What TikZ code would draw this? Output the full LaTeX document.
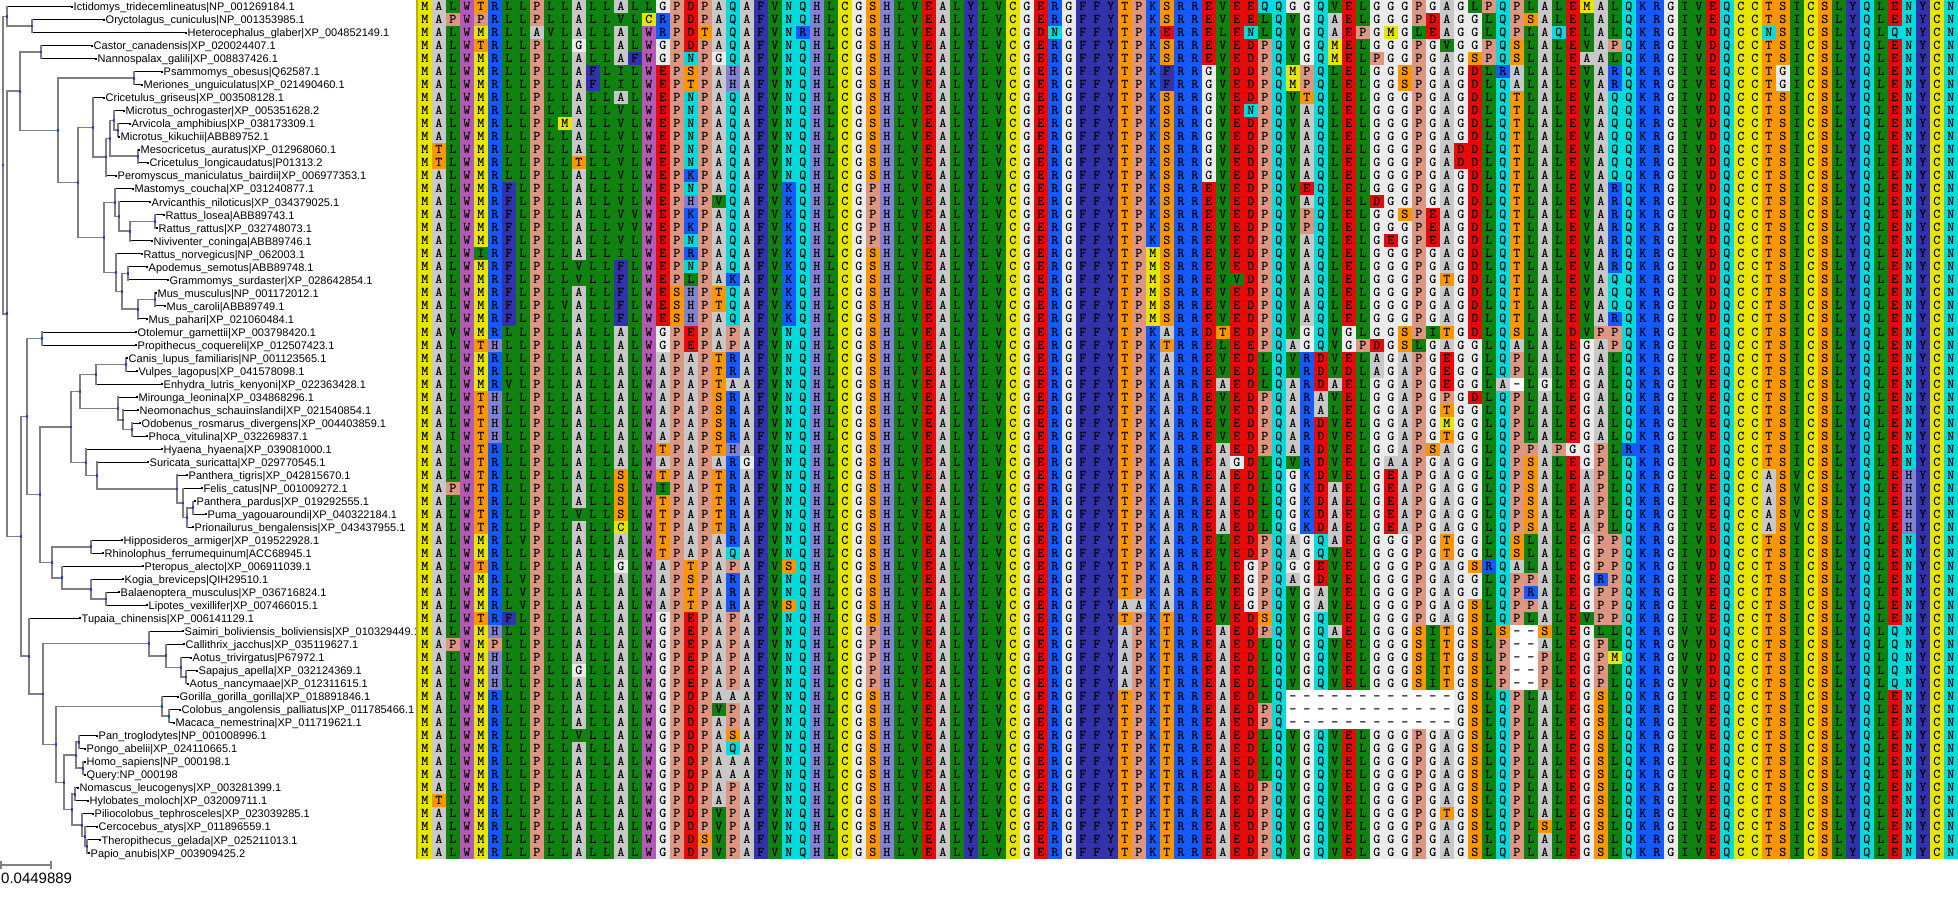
\documentclass[tikz,border=0pt]{standalone}
\usepackage{fontspec}
\usetikzlibrary{calc}
\newfontfamily\labfont{Liberation Sans}
\definecolor{cgray}{RGB}{200,200,200}
\definecolor{cblue}{RGB}{20,90,255}
\definecolor{ccyan}{RGB}{0,220,220}
\definecolor{cred}{RGB}{230,10,10}
\definecolor{cyel}{RGB}{230,230,0}
\definecolor{clgray}{RGB}{235,235,235}
\definecolor{chis}{RGB}{130,130,210}
\definecolor{cgreen}{RGB}{15,130,15}
\definecolor{cnavy}{RGB}{50,50,170}
\definecolor{cpro}{RGB}{220,150,130}
\definecolor{corange}{RGB}{250,150,0}
\definecolor{ctrp}{RGB}{180,90,180}
\definecolor{treegray}{RGB}{128,128,128}
\definecolor{markblue}{RGB}{30,60,230}
\definecolor{bordolive}{RGB}{185,175,0}
\newcommand\aafont{\ttfamily\bfseries\fontsize{13.5bp}{14bp}\selectfont}
\makeatletter
\@namedef{aacol@A}{cgray}
\@namedef{aacol@R}{cblue}\@namedef{aacol@K}{cblue}
\@namedef{aacol@N}{ccyan}\@namedef{aacol@Q}{ccyan}
\@namedef{aacol@D}{cred}\@namedef{aacol@E}{cred}
\@namedef{aacol@C}{cyel}\@namedef{aacol@M}{cyel}
\@namedef{aacol@G}{clgray}
\@namedef{aacol@H}{chis}
\@namedef{aacol@I}{cgreen}\@namedef{aacol@L}{cgreen}\@namedef{aacol@V}{cgreen}
\@namedef{aacol@F}{cnavy}\@namedef{aacol@Y}{cnavy}
\@namedef{aacol@P}{cpro}
\@namedef{aacol@S}{corange}\@namedef{aacol@T}{corange}
\@namedef{aacol@W}{ctrp}
\@namedef{aacol@-}{white}
\newdimen\sqx \newdimen\sqy
\newcommand\seqrow[4]{%
  \sqy=13.02bp \sqy=-#1\sqy
  \sqx=418bp
  \@tfor\sqch:=#2#3#4\do{%
    \edef\sqfc{\csname aacol@\sqch\endcsname}%
    \pgfsetfillcolor{\sqfc}%
    \pgfpathrectangle{\pgfqpoint{\sqx}{\sqy}}{\pgfqpoint{14bp}{13.02bp}}%
    \pgfusepath{fill}%
    \advance\sqx by 14bp\relax}%
  \pgftext[left,base,at={\pgfqpoint{418bp}{\dimexpr\sqy+2.51bp\relax}}]{\aafont
    \@tfor\sqch:=#2#3#4\do{\hbox to 14bp{\hss\sqch\hss}}}%
}
\makeatother
\tikzset{
  lab/.style={anchor=base west, inner sep=0pt, font=\labfont\fontsize{11bp}{13bp}\selectfont},
  vl/.style={draw=treegray, line width=1.5bp, line cap=rect},
  intl/.style={draw=treegray, line width=1.5bp},
  leafl/.style={draw=black, line width=1bp},
}
\newcommand\leaf[3]{%
  \coordinate (t#1) at (#2,{(#1-0.5)*13.02});
  \node[lab] (lab#1) at ([xshift=1.5bp,yshift=-4.2bp]t#1) {#3};}
\newcommand\tn[6]{%
  \path ($(#3)!0.5!(#5)$) coordinate (#1m);
  \coordinate (#1) at (#2,0 |- #1m);
  \draw[#4] (#3 -| #1) -- (#3);
  \draw[#6] (#5 -| #1) -- (#5);
  \draw[vl] (#3 -| #1) -- (#5 -| #1);}
\begin{document}
\begin{tikzpicture}[x=1bp,y=-1bp]
\fill[white] (0,0) rectangle (1958,910);
\useasboundingbox (0,0) rectangle (1958,910);
% leaves
\leaf{1}{72}{Ictidomys\_tridecemlineatus|NP\_001269184.1}
\leaf{2}{104}{Oryctolagus\_cuniculus|NP\_001353985.1}
\leaf{3}{186}{Heterocephalus\_glaber|XP\_004852149.1}
\leaf{4}{92}{Castor\_canadensis|XP\_020024407.1}
\leaf{5}{96}{Nannospalax\_galili|XP\_008837426.1}
\leaf{6}{162}{Psammomys\_obesus|Q62587.1}
\leaf{7}{142}{Meriones\_unguiculatus|XP\_021490460.1}
\leaf{8}{104}{Cricetulus\_griseus|XP\_003508128.1}
\leaf{9}{124}{Microtus\_ochrogaster|XP\_005351628.2}
\leaf{10}{130}{Arvicola\_amphibius|XP\_038173309.1}
\leaf{11}{119}{Microtus\_kikuchii|ABB89752.1}
\leaf{12}{139}{Mesocricetus\_auratus|XP\_012968060.1}
\leaf{13}{148}{Cricetulus\_longicaudatus|P01313.2}
\leaf{14}{116}{Peromyscus\_maniculatus\_bairdii|XP\_006977353.1}
\leaf{15}{133}{Mastomys\_coucha|XP\_031240877.1}
\leaf{16}{150}{Arvicanthis\_niloticus|XP\_034379025.1}
\leaf{17}{164}{Rattus\_losea|ABB89743.1}
\leaf{18}{157}{Rattus\_rattus|XP\_032748073.1}
\leaf{19}{152}{Niviventer\_coninga|ABB89746.1}
\leaf{20}{142}{Rattus\_norvegicus|NP\_062003.1}
\leaf{21}{147}{Apodemus\_semotus|ABB89748.1}
\leaf{22}{168}{Grammomys\_surdaster|XP\_028642854.1}
\leaf{23}{156}{Mus\_musculus|NP\_001172012.1}
\leaf{24}{165}{Mus\_caroli|ABB89749.1}
\leaf{25}{147}{Mus\_pahari|XP\_021060484.1}
\leaf{26}{136}{Otolemur\_garnettii|XP\_003798420.1}
\leaf{27}{136}{Propithecus\_coquereli|XP\_012507423.1}
\leaf{28}{127}{Canis\_lupus\_familiaris|NP\_001123565.1}
\leaf{29}{137}{Vulpes\_lagopus|XP\_041578098.1}
\leaf{30}{162}{Enhydra\_lutris\_kenyoni|XP\_022363428.1}
\leaf{31}{137}{Mirounga\_leonina|XP\_034868296.1}
\leaf{32}{138}{Neomonachus\_schauinslandi|XP\_021540854.1}
\leaf{33}{140}{Odobenus\_rosmarus\_divergens|XP\_004403859.1}
\leaf{34}{147}{Phoca\_vitulina|XP\_032269837.1}
\leaf{35}{162}{Hyaena\_hyaena|XP\_039081000.1}
\leaf{36}{148}{Suricata\_suricatta|XP\_029770545.1}
\leaf{37}{187}{Panthera\_tigris|XP\_042815670.1}
\leaf{38}{202}{Felis\_catus|NP\_001009272.1}
\leaf{39}{195}{Panthera\_pardus|XP\_019292555.1}
\leaf{40}{206}{Puma\_yagouaroundi|XP\_040322184.1}
\leaf{41}{193}{Prionailurus\_bengalensis|XP\_043437955.1}
\leaf{42}{122}{Hipposideros\_armiger|XP\_019522928.1}
\leaf{43}{103}{Rhinolophus\_ferrumequinum|ACC68945.1}
\leaf{44}{143}{Pteropus\_alecto|XP\_006911039.1}
\leaf{45}{123}{Kogia\_breviceps|QIH29510.1}
\leaf{46}{119}{Balaenoptera\_musculus|XP\_036716824.1}
\leaf{47}{147}{Lipotes\_vexillifer|XP\_007466015.1}
\leaf{48}{80}{Tupaia\_chinensis|XP\_006141129.1}
\leaf{49}{183}{Saimiri\_boliviensis\_boliviensis|XP\_010329449.1}
\leaf{50}{184}{Callithrix\_jacchus|XP\_035119627.1}
\leaf{51}{191}{Aotus\_trivirgatus|P67972.1}
\leaf{52}{197}{Sapajus\_apella|XP\_032124369.1}
\leaf{53}{188}{Aotus\_nancymaae|XP\_012311615.1}
\leaf{54}{178}{Gorilla\_gorilla\_gorilla|XP\_018891846.1}
\leaf{55}{180}{Colobus\_angolensis\_palliatus|XP\_011785466.1}
\leaf{56}{174}{Macaca\_nemestrina|XP\_011719621.1}
\leaf{57}{97}{Pan\_troglodytes|NP\_001008996.1}
\leaf{58}{85}{Pongo\_abelii|XP\_024110665.1}
\leaf{59}{85}{Homo\_sapiens|NP\_000198.1}
\leaf{60}{85}{Query:NP\_000198}
\leaf{61}{78}{Nomascus\_leucogenys|XP\_003281399.1}
\leaf{62}{88}{Hylobates\_moloch|XP\_032009711.1}
\leaf{63}{93}{Piliocolobus\_tephrosceles|XP\_023039285.1}
\leaf{64}{97}{Cercocebus\_atys|XP\_011896559.1}
\leaf{65}{100}{Theropithecus\_gelada|XP\_025211013.1}
\leaf{66}{89}{Papio\_anubis|XP\_003909425.2}
% tree
\tn{B}{32}{t2}{leafl}{t3}{leafl}
\tn{A}{7}{t1}{leafl}{B}{intl}
\tn{D}{41}{t4}{leafl}{t5}{leafl}
\tn{F}{134}{t6}{leafl}{t7}{leafl}
\tn{Nk}{118}{t10}{leafl}{t11}{leafl}
\tn{Lm}{114}{t9}{leafl}{Nk}{intl}
\tn{Mm}{138}{t12}{leafl}{t13}{leafl}
\tn{K}{110}{Lm}{intl}{Mm}{intl}
\tn{J}{106}{K}{intl}{t14}{leafl}
\tn{H}{93}{t8}{leafl}{J}{intl}
\tn{S}{155}{t17}{leafl}{t18}{leafl}
\tn{R}{130}{S}{intl}{t19}{leafl}
\tn{Q}{119}{t16}{leafl}{R}{intl}
\tn{O}{115}{t15}{leafl}{Q}{intl}
\tn{U}{128}{t21}{leafl}{t22}{leafl}
\tn{W}{155}{t23}{leafl}{t24}{leafl}
\tn{V}{138}{W}{intl}{t25}{leafl}
\tn{T}{122}{U}{intl}{V}{intl}
\tn{P}{116}{t20}{leafl}{T}{intl}
\tn{I}{104}{O}{intl}{P}{intl}
\tn{G}{78}{H}{intl}{I}{intl}
\tn{E}{58}{F}{intl}{G}{intl}
\tn{C}{20}{D}{intl}{E}{intl}
\tn{Strep}{42}{t26}{leafl}{t27}{leafl}
\tn{CV}{126}{t28}{leafl}{t29}{leafl}
\tn{CVE}{96}{CV}{intl}{t30}{leafl}
\tn{OP}{132}{t33}{leafl}{t34}{leafl}
\tn{PN}{123}{t32}{leafl}{OP}{intl}
\tn{Pinn}{118}{t31}{leafl}{PN}{intl}
\tn{Canif}{80}{CVE}{intl}{Pinn}{intl}
\tn{FEf}{193}{t39}{leafl}{t40}{leafl}
\tn{FEe}{187}{FEf}{intl}{t41}{leafl}
\tn{FEd}{183}{t38}{leafl}{FEe}{intl}
\tn{FE}{177}{t37}{leafl}{FEd}{intl}
\tn{SF}{97}{t36}{leafl}{FE}{intl}
\tn{Felif}{86}{t35}{leafl}{SF}{intl}
\tn{Carn}{71}{Canif}{intl}{Felif}{intl}
\tn{Bats}{91}{t42}{leafl}{t43}{leafl}
\tn{BL}{106}{t46}{leafl}{t47}{leafl}
\tn{Cet}{91}{t45}{leafl}{BL}{intl}
\tn{BC}{62}{t44}{leafl}{Cet}{intl}
\tn{ChC}{52}{Bats}{intl}{BC}{intl}
\tn{LA}{40}{Carn}{intl}{ChC}{intl}
\tn{Y}{27}{Strep}{intl}{LA}{intl}
\tn{NWd}{186}{t52}{leafl}{t53}{leafl}
\tn{NWc}{181}{t51}{leafl}{NWd}{intl}
\tn{NWb}{166}{t50}{leafl}{NWc}{intl}
\tn{NW}{149}{t49}{leafl}{NWb}{intl}
\tn{CM}{169}{t55}{leafl}{t56}{leafl}
\tn{GM}{162}{t54}{leafl}{CM}{intl}
\tn{HP}{79}{t57}{leafl}{t58}{leafl}
\tn{HQ}{83}{t59}{leafl}{t60}{leafl}
\tn{Apes}{76}{HP}{intl}{HQ}{intl}
\tn{NH}{75}{t61}{leafl}{t62}{leafl}
\tn{TP}{87}{t65}{leafl}{t66}{leafl}
\tn{CTP}{85}{t64}{leafl}{TP}{intl}
\tn{OWM}{82}{t63}{leafl}{CTP}{intl}
\tn{OWb}{72}{NH}{intl}{OWM}{intl}
\tn{AO}{64}{Apes}{intl}{OWb}{intl}
\tn{CT}{56}{GM}{intl}{AO}{intl}
\tn{PR}{43}{NW}{intl}{CT}{intl}
\tn{Z}{29}{t48}{leafl}{PR}{intl}
\tn{X}{21}{Y}{intl}{Z}{intl}
\tn{RR}{7}{C}{intl}{X}{intl}
\tn{Root}{3}{A}{intl}{RR}{intl}
\foreach \i in {1,...,66} {\fill[black] (t\i) +(-1,-1) rectangle +(1,1);}
\foreach \m in {B,A,D,F,Nk,Lm,Mm,K,J,H,S,R,Q,O,U,W,V,T,P,I,G,E,C,Strep,CV,CVE,OP,PN,Pinn,Canif,FEf,FEe,FEd,FE,SF,Felif,Carn,Bats,BL,Cet,BC,ChC,LA,Y,NWd,NWc,NWb,NW,CM,GM,HP,HQ,Apes,NH,TP,CTP,OWM,OWb,AO,CT,PR,Z,X,RR,Root}
  {\fill[markblue] (\m) +(-1.4,-1.4) rectangle +(1.4,1.4);}
% scale bar
\coordinate (sba) at (1,865);
\coordinate (sbb) at (51,865);
\draw[intl] (sba) -- (sbb);
\draw[intl] ([yshift=4bp]sba) -- ([yshift=-4bp]sba);
\draw[intl] ([yshift=4bp]sbb) -- ([yshift=-4bp]sbb);
\node[anchor=base west, inner sep=0pt, font=\labfont\fontsize{15bp}{17bp}\selectfont] (sbl) at (1,883) {0.0449889};
% alignment
\begin{pgfscope}
\seqrow{1}{MALWTRLLPLLALLALLGPDPAQAFVNQHLCGSHLVE}{ALYLVCGERGFFYTPKSRREVEEQQGGQVELGGGPGA}{GLPQPLALEMALQKRGIVEQCCTSICSLYQLENYCN}
\seqrow{2}{MAPWPRLLPLLALLVLCRPDPAQAFVNQHLCGSHLVE}{ALYLVCGERGFFYTPKSRREVEELQVGQAELGGGPDA}{GGLQPSALELALQKRGIVEQCCTSICSLYQLENYCN}
\seqrow{3}{MALWMRLLAVLALLALWRPDTAQAFVNRHLCGSHLVE}{ALYLVCGDNGFFYTPKERRELENLQVGQAEPGMGLEA}{GGLQPLAQELALQKRGIVDQCCNSICSLYQLQNYCN}
\seqrow{4}{MALWTRLLPLLGLLALWGPDPAQAFVNQHLCGSHLVE}{ALYLVCGERGFFYTPKSRREVEDPQVGQMELGGGPGV}{GGPQSLALEVAPQKRGIVDQCCTSICSLYQLENYCN}
\seqrow{5}{MALWMRLLPLLALLAFWGPNPGQAFVNQHLCGSHLVE}{ALYLVCGERGFFYTPKSRREVEDPQVGQMELPGGPGA}{GSPQSLALEAALQKRGIVDQCCTSICSLYQLENYCN}
\seqrow{6}{MALWMRLLPLLAFLILWEPSPAHAFVNQHLCGSHLVE}{ALYLVCGERGFFYTPKFRRGVDDPQMPQLELGGSPGA}{GDLRALALEVARQKRGIVEQCCTGICSLYQLENYCN}
\seqrow{7}{MALWMRLLPLLAFLILWEPTPAHAFVNQHLCGSHLVE}{ALYLVCGERGFFYTPKFRRGVEDPQMPQLELGGSPGA}{GDLQALALEVARQKRGIVEQCCTGICSLYQLENYCN}
\seqrow{8}{MALWMRLLPLLALLALWEPNPAQAFVNQHLCGSHLVE}{ALYLVCGERGFFYTPKSRRGVEDPQVTQLELGGGPGA}{GDLQTLALEVAQQKRGIVDQCCTSICSLYQLENYCN}
\seqrow{9}{MALWMRLLPLLALLVLWEPNPAQAFVNQHLCGSHLVE}{ALYLVCGERGFFYTPKSRRGVENPQVAQLELGGGPGA}{GDLQTLALEVAQQKRGIVDQCCTSICSLYQLENYCN}
\seqrow{10}{MALWMRLLPLMALLVLWEPNPAQAFVNQHLCGSHLVE}{ALYLVCGERGFFYTPKSRRGVEDPQVAQLELGGGPGA}{GDLQTLALEVAQQKRGIVDQCCTSICSLYQLENYCN}
\seqrow{11}{MALWMRLLPLLALLVLWEPNPAQAFVNQHLCGSHLVE}{ALYLVCGERGFFYTPKSRRGVEDPQVAQLELGGGPGA}{GDLQTLALEVAQQKRGIVDQCCTSICSLYQLENYCN}
\seqrow{12}{MTLWMRLLPLLALLVLWEPNPAQAFVNQHLCGSHLVE}{ALYLVCGERGFFYTPKSRRGVEDPQVAQLELGGGPGA}{DDLQTLALEVAQQKRGIVDQCCTSICSLYQLENYCN}
\seqrow{13}{MTLWMRLLPLLTLLVLWEPNPAQAFVNQHLCGSHLVE}{ALYLVCGERGFFYTPKSRRGVEDPQVAQLELGGGPGA}{DDLQTLALEVAQQKRGIVDQCCTSICSLYQLENYCN}
\seqrow{14}{MALWMRLLPLLALLVLWEPKPAQAFVNQHLCGSHLVE}{ALYLVCGERGFFYTPKSRRGVEDPQVAQLELGGGPGA}{GDLQTLALEVAQQKRGIVDQCCTSICSLYQLENYCN}
\seqrow{15}{MALWMRFLPLLALLILWEPNPAQAFVKQHLCGPHLVE}{ALYLVCGERGFFYTPKSRREVEDPQVEQLELGGGPGA}{GDLQTLALEVARQKRGIVDQCCTSICSLYQLENYCN}
\seqrow{16}{MALWMRFLPLLALLVLWEPHPVQAFVKQHLCGPHLVE}{ALYLVCGERGFFYTPKSRREVEDPQVAQLELDGGPGA}{GDLQTLALEVARQKRGIVDQCCTSICSLYQLENYCN}
\seqrow{17}{MALWMRFLPLLALLVVWEPKPAQAFVKQHLCGPHLVE}{ALYLVCGERGFFYTPKSRREVEDPQVPQLELGGSPEA}{GDLQTLALEVARQKRGIVDQCCTSICSLYQLENYCN}
\seqrow{18}{MALWMRFLPLLALLVVWEPKPAQAFVKQHLCGPHLVE}{ALYLVCGERGFFYTPKSRREVEDPQVPQLELGGGPEA}{GDLQTLALEVARQKRGIVDQCCTSICSLYQLENYCN}
\seqrow{19}{MALWMRFLPLLALLVLWEPNPAQAFVKQHLCGPHLVE}{ALYLVCGERGFFYTPKSRREVEDPQVAQLELGEGPEA}{GDLQTLALEVARQKRGIVDQCCTSICSLYQLENYCN}
\seqrow{20}{MALWIRFLPLLALLILWEPRPAQAFVKQHLCGSHLVE}{ALYLVCGERGFFYTPMSRREVEDPQVAQLELGGGPGA}{GDLQTLALEVARQKRGIVDQCCTSICSLYQLENYCN}
\seqrow{21}{MALWMRFLPLLVLLFLWEPNPAQAFVKQHLCGSHLVE}{ALYLVCGERGFFYTPMSRREVEDPQVAQLELGGGPGA}{GDLQTLALEVARQKRGIVDQCCTSICSLYQLENYCN}
\seqrow{22}{MALWMRFLPLLVLLFLWEPLPAKAFVKQHLCGSHLVE}{ALYLVCGERGFFYTPMSRREVVDPQVAQLELGGGPGT}{GDLQTLALEVAQQKRGIVDQCCTSICSLYQLENYCN}
\seqrow{23}{MALWMRFLPLLALLFLWESHPTQAFVKQHLCGSHLVE}{ALYLVCGERGFFYTPMSRREVEDPQVAQLELGGGPGA}{GDLQTLALEVAQQKRGIVDQCCTSICSLYQLENYCN}
\seqrow{24}{MALWMRFLPLVALLFLWESHPTQAFVKQHLCGSHLVE}{ALYLVCGERGFFYTPMSRREVEDPQVAQLELGGGPGA}{GDLQTLALEVAQQKRGIVDQCCTSICSLYQLENYCN}
\seqrow{25}{MALWMRFLPLLALLFLWESHPAQAFVKQHLCGSHLVE}{ALYLVCGERGFFYTPMSRREVEDPQVAQLELGGGPGA}{GDLQTLALEVARQKRGIVDQCCTSICSLYQLENYCN}
\seqrow{26}{MAVWMRLLPLLALLALWGPEPAPAFVNQHLCGSHLVE}{ALYLVCGERGFFYTPKARRDTEDPQVGQVGLGGSPIT}{GDLQSLALDVPPQKRGIVEQCCTSICSLYQLENYCN}
\seqrow{27}{MALWTHLLPLLALLALWGPEPAPAFVNQHLCGSHLVE}{ALYLVCGERGFFYTPKTRRELEEPQAGQVGPDGSLGA}{GGLQALALEGAPQKRGIVEQCCTSICSLYQLENYCN}
\seqrow{28}{MALWMRLLPLLALLALWAPAPTRAFVNQHLCGSHLVE}{ALYLVCGERGFFYTPKARREVEDLQVRDVELAGAPGE}{GGLQPLALEGALQKRGIVEQCCTSICSLYQLENYCN}
\seqrow{29}{MALWMRLLPLLALLALWAPAPTRAFVNQHLCGSHLVE}{ALYLVCGERGFFYTPKARREVEDLQVRDVDLAGAPGE}{GGLQPLALEGALQKRGIVEQCCTSICSLYQLENYCN}
\seqrow{30}{MALWMRVLPLLALLALWAPAPTAAFVNQHLCGSHLVE}{ALYLVCGERGFFYTPKARREAEDLQARDAELGGAPGE}{GGLA-LGLEGALQKRGIVEQCCTSICSLYQLENYCN}
\seqrow{31}{MALWTHLLPLLALLALWAPAPSRAFVNQHLCGSHLVE}{ALYLVCGERGFFYTPKARREVEDPQARAVELGGAPGP}{GDLQPLALEGALQKRGIVEQCCTSICSLYQLENYCN}
\seqrow{32}{MALWTHLLPLLALLALWAPAPSRAFVNQHLCGSHLVE}{ALYLVCGERGFFYTPKARREVEDPQARALELGGAPGT}{GGLQPLALEGALQKRGIVEQCCTSICSLYQLENYCN}
\seqrow{33}{MALWTHLLPLLALLALWAPAPSRAFVNQHLCGSHLVE}{ALYLVCGERGFFYTPKARREVEDPQARDVELGGAPGM}{GGLQPLALEGALQKRGIVEQCCTSICSLYQLENYCN}
\seqrow{34}{MAIWTHLLPLLALLALWAPAPSRAFVNQHLCGSHLVE}{ALYLVCGERGFFYTPKARREVEDPQARDVELGGAPGT}{GGLQPLALEGALQKRGIVEQCCTSICSLYQLENYCN}
\seqrow{35}{MALWTRLLPLLALLALWTPAPTHAFVNQHLCGSHLVE}{ALYLVCGERGFFYTPKARREAEDPQARDVELGGAPSA}{GGLQPPAPGGPLRKRGIVEQCCTSICSLYQLENYCN}
\seqrow{36}{MALWTRLLPLLALLALWAPAPARGFVNQHLCGSHLVE}{ALYLVCGERGFFYTPKARREAGDLQVRDVELGAAPGA}{GGLQPSALEGPLQKRGIVDQCCTSICSLYQLENYCN}
\seqrow{37}{MALWTRLLPLLALLSLWTPAPTRAFVNQHLCGSHLVE}{ALYLVCGERGFFYTPKARREAEDLQGKDVELGEAPGA}{GGLQPSALEAPLQKRGIVEQCCASVCSLYQLEHYCN}
\seqrow{38}{MAPWTRLLPLLALLSLWIPAPTRAFVNQHLCGSHLVE}{ALYLVCGERGFFYTPKARREAEDLQGKDAELGEAPGA}{GGLQPSALEAPLQKRGIVEQCCASVCSLYQLEHYCN}
\seqrow{39}{MALWTRLLPLLALLSLWTPAPTRAFVNQHLCGSHLVE}{ALYLVCGERGFFYTPKARREAEDLQGKDAELGEAPGA}{GGLQPSALEAPLQKRGIVEQCCASVCSLYQLEHYCN}
\seqrow{40}{MALWTRLLPLLVLLSLWTPAPTRAFVNQHLCGSHLVE}{ALYLVCGERGFFYTPKARREAEDLQGKDAELGEAPGA}{GGLQPSALEAPLQKRGIVEQCCASVCSLYQLEHYCN}
\seqrow{41}{MALWTRLLPLLALLCLWTPAPTRAFVNQHLCGSHLVE}{ALYLVCGERGFFYTPKARREAEDLQGKDAELGEAPGA}{GGLQPSALEAPLQKRGIVEQCCASVCSLYQLEHYCN}
\seqrow{42}{MALWMRLVPLLALLALWTPAPARAFVNQHLCGSHLVE}{ALYLVCGERGFFYTPKARRELEDPQAGQAELGGGPGT}{GGLQSLALEGPPQKRGIVDQCCTSICSLYQLENYCN}
\seqrow{43}{MALWMRLLPLLALLALWTPAPAQAFVNQHLCGSHLVE}{ALYLVCGERGFFYTPKARREVEDPQAGQVELGGGPGT}{GGLQSLALEGPPQKRGIVDQCCTSICSLYQLENYCN}
\seqrow{44}{MALWTRLLPLLALLGLWAPTPAPAFVSQHLCGSHLVE}{ALYLVCGERGFFYTPKARRELEGPQGGEVELGGGPGA}{GSRQALALEGPPQKRGIVDQCCTSICSLYQLENYCN}
\seqrow{45}{MALWMRLVPLLALLALWAPSPARAFVNQHLCGSHLVE}{ALYLVCGERGFFYTPKARREVEGPQAGDVELGGGPGA}{GGLQPPALEGRPQKRGIVEQCCTSICSLYQLENYCN}
\seqrow{46}{MALWMRLVPLLALLALWAPTPARAFVNQHLCGSHLVE}{ALYLVCGERGFFYTPKARREVEGPQVGAVELGGGPGA}{GGLQPRALEGPPQKRGIVEQCCTSICSLYQLENYCN}
\seqrow{47}{MALWMRLVPLLALLALWAPTPARAFVSQHLCGSHLVE}{ALYLVCGERGFFYAAKARREVEGPQVGAVELGGGPGA}{GSLQPPALEGPPQKRGIVEQCCTSICSLYQLENYCN}
\seqrow{48}{MALWTRFLPLLALLALWGPEPAPAFVNQHLCGSHLVE}{ALYLVCGERGFFYTPKTRREVEDSQVGQVELGGGPGA}{GSLQPLALEVPPQKRGIVEQCCTSICSLYQLENYCN}
\seqrow{49}{MALWMHLLPLLALLALWGPEPAPAFVNQHLCGPHLVE}{ALYLVCGERGFFYAPKTRREAEDPQVGQAELGGGSIT}{GSLS--SLEGLLQKRGVVDQCCTSICSLYQLQNYCN}
\seqrow{50}{MAPWMPLLPLLALLALWGPEPAPAFVNQHLCGPHLVE}{ALYLVCGERGFFYAPKTRREAEDLQVGQVELGGGSIT}{GSLP--ALEGPLQKRGVVDQCCTSICSLYQLQNYCN}
\seqrow{51}{MALWMHLLPLLALLALWGPEPAPAFVNQHLCGPHLVE}{ALYLVCGERGFFYAPKTRREAEDLQVGQVELGGGSIT}{GSLP--PLEGPMQKRGVVDQCCTSICSLYQLQNYCN}
\seqrow{52}{MALWMHLLPLLGLLALWGPEPAPAFVNQHLCGPHLVE}{ALYLVCGERGFFYAPKTRREAEDLQVGQVELGGGSIT}{GSLP--PLEGPLQKRGVVDQCCTSICSLYQLQNYCN}
\seqrow{53}{MALWMHLLPLLALLALWGPEPAPAFVNQHLCGPHLVE}{ALYLVCGERGFFYAPKTRREAEDLQVGQVELGGGSIT}{GSLP--PLEGPLQKRGVVDQCCTSICSLYQLQNYCN}
\seqrow{54}{MALWMRLLPLLALLALWGPDPAAAFVNQHLCGSHLVE}{ALYLVCGERGFFYTPKTRREAEDLQ------------}{GSLQPLALEGSLQKRGIVEQCCTSICSLYQLENYCN}
\seqrow{55}{MALWMRLLPLLALLALWGPDPVPAFVNQHLCGSHLVE}{ALYLVCGERGFFYTPKTRREAEDPQ------------}{GSLQPLALEGSLQKRGIVEQCCTSICSLYQLENYCN}
\seqrow{56}{MALWMRLLPLLALLALWGPDPAPAFVNQHLCGSHLVE}{ALYLVCGERGFFYTPKTRREAEDPQ------------}{GSLQPLALEGSLQKRGIVEQCCTSICSLYQLENYCN}
\seqrow{57}{MALWMRLLPLLVLLALWGPDPASAFVNQHLCGSHLVE}{ALYLVCGERGFFYTPKTRREAEDLQVGQVELGGGPGA}{GSLQPLALEGSLQKRGIVEQCCTSICSLYQLENYCN}
\seqrow{58}{MALWMRLLPLLALLALWGPDPAQAFVNQHLCGSHLVE}{ALYLVCGERGFFYTPKTRREAEDLQVGQVELGGGPGA}{GSLQPLALEGSLQKRGIVEQCCTSICSLYQLENYCN}
\seqrow{59}{MALWMRLLPLLALLALWGPDPAAAFVNQHLCGSHLVE}{ALYLVCGERGFFYTPKTRREAEDLQVGQVELGGGPGA}{GSLQPLALEGSLQKRGIVEQCCTSICSLYQLENYCN}
\seqrow{60}{MALWMRLLPLLALLALWGPDPAAAFVNQHLCGSHLVE}{ALYLVCGERGFFYTPKTRREAEDLQVGQVELGGGPGA}{GSLQPLALEGSLQKRGIVEQCCTSICSLYQLENYCN}
\seqrow{61}{MALWMRLLPLLALLALWGPDPAPAFVNQHLCGSHLVE}{ALYLVCGERGFFYTPKTRREAEDPQVGQVELGGGPGA}{GSLQPLALEGSLQKRGIVEQCCTSICSLYQLENYCN}
\seqrow{62}{MTLWMRLLPLLALLALWGPDPAPAFVNQHLCGSHLVE}{ALYLVCGERGFFYTPKTRREAEDPQVGQVELGGGPGA}{GSLQPLALEGSLQKRGIVEQCCTSICSLYQLENYCN}
\seqrow{63}{MALWMRLLPLLALLALWGPDPVPAFVNQHLCGSHLVE}{ALYLVCGERGFFYTPKTRREAEDPQVGQVELGGGPGT}{GSLQPLALEGSLQKRGIVEQCCTSICSLYQLENYCN}
\seqrow{64}{MALWMRLLPLLALLALWGPDPVPAFVNQHLCGSHLVE}{ALYLVCGERGFFYTPKTRREAEDPQVGQVELGGGPGA}{GSLQPLSLEGSLQKRGIVEQCCTSICSLYQLENYCN}
\seqrow{65}{MALWMRLLPLLALLALWGPDSVPAFVNQHLCGSHLVE}{ALYLVCGERGFFYTPKTRREAEDPQVGQVELGGGPGA}{GSLQPLALEGSLQKRGIVEQCCTSICSLYQLENYCN}
\seqrow{66}{MALWMRLLPLLALLALWGPDPVPAFVNQHLCGSHLVE}{ALYLVCGERGFFYTPKTRREAEDPQVGQVELGGGPGA}{GSLQPLALEGSLQKRGIVEQCCTSICSLYQLENYCN}
\end{pgfscope}
\draw[bordolive, line width=2bp] (417,0) -- (417,859.3);
\end{tikzpicture}
\end{document}
